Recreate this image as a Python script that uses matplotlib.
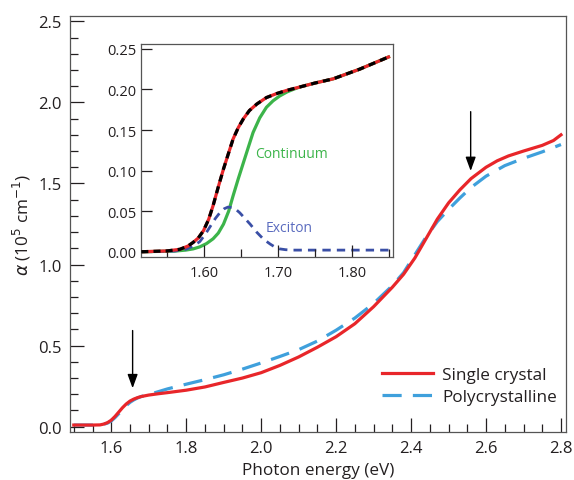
import matplotlib
matplotlib.use("Agg")
import matplotlib.pyplot as plt
from matplotlib.ticker import MultipleLocator

plt.rcParams['font.family'] = ['Open Sans', 'DejaVu Sans']
plt.rcParams['mathtext.fontset'] = 'dejavusans'

TXT = '#231f20'

# 主図: 単結晶
e_single = [1.50, 1.55, 1.57, 1.58, 1.59, 1.60, 1.61, 1.62, 1.63, 1.64, 1.65, 1.66,
            1.67, 1.68, 1.70, 1.725, 1.75, 1.80, 1.85, 1.90, 1.95, 2.00, 2.05, 2.10,
            2.15, 2.20, 2.25, 2.30, 2.35, 2.38, 2.41, 2.44, 2.47, 2.50, 2.53, 2.56,
            2.60, 2.63, 2.66, 2.70, 2.75, 2.78, 2.80]
a_single = [0.01, 0.01, 0.011, 0.016, 0.025, 0.04, 0.063, 0.09, 0.117, 0.14, 0.158, 0.17,
            0.179, 0.186, 0.195, 0.203, 0.21, 0.225, 0.245, 0.273, 0.30, 0.333, 0.378, 0.43,
            0.49, 0.555, 0.635, 0.74, 0.86, 0.94, 1.04, 1.16, 1.28, 1.38, 1.46, 1.53,
            1.60, 1.64, 1.67, 1.70, 1.735, 1.765, 1.80]

# 主図: 多結晶
e_poly = [1.50, 1.56, 1.58, 1.59, 1.60, 1.61, 1.62, 1.63, 1.64, 1.65, 1.66, 1.67,
          1.68, 1.70, 1.75, 1.80, 1.85, 1.90, 1.95, 2.00, 2.05, 2.10, 2.15, 2.20,
          2.25, 2.30, 2.35, 2.38, 2.41, 2.44, 2.47, 2.50, 2.53, 2.56, 2.60, 2.65,
          2.70, 2.75, 2.80]
a_poly = [0.01, 0.01, 0.015, 0.022, 0.035, 0.056, 0.08, 0.106, 0.13, 0.15, 0.165, 0.177,
          0.186, 0.198, 0.233, 0.262, 0.29, 0.32, 0.355, 0.393, 0.433, 0.475, 0.528, 0.595,
          0.67, 0.76, 0.87, 0.95, 1.06, 1.17, 1.265, 1.34, 1.41, 1.475, 1.545, 1.61,
          1.655, 1.695, 1.74]

# 挿入図: 測定値と合計フィット
e_in = [1.515, 1.55, 1.567, 1.578, 1.585, 1.592, 1.599, 1.606, 1.612, 1.619, 1.626,
        1.633, 1.639, 1.646, 1.653, 1.661, 1.671, 1.684, 1.698, 1.712, 1.729, 1.75,
        1.774, 1.81, 1.849]
a_in = [0.0, 0.001, 0.003, 0.007, 0.0115, 0.017, 0.026, 0.04, 0.057, 0.08, 0.102,
        0.122, 0.139, 0.153, 0.164, 0.174, 0.182, 0.19, 0.195, 0.199, 0.203, 0.208,
        0.213, 0.225, 0.240]

# 挿入図: 連続帯
e_cont = [1.515, 1.56, 1.575, 1.585, 1.594, 1.603, 1.612, 1.619, 1.626, 1.633, 1.639,
          1.646, 1.653, 1.66, 1.666, 1.675, 1.684, 1.693, 1.702, 1.712, 1.72, 1.729,
          1.75, 1.774, 1.81, 1.849]
a_cont = [0.0, 0.0008, 0.002, 0.0035, 0.006, 0.010, 0.016, 0.023, 0.034, 0.05, 0.069,
          0.09, 0.110, 0.13, 0.147, 0.165, 0.178, 0.186, 0.192, 0.197, 0.200, 0.203,
          0.208, 0.213, 0.225, 0.240]

# 挿入図: 励起子
e_exc = [1.515, 1.56, 1.575, 1.585, 1.594, 1.601, 1.608, 1.615, 1.621, 1.627, 1.632,
         1.638, 1.643, 1.648, 1.653, 1.662, 1.671, 1.68, 1.689, 1.696, 1.702, 1.71,
         1.72, 1.85]
a_exc = [0.0, 0.0008, 0.003, 0.007, 0.0125, 0.021, 0.031, 0.041, 0.048, 0.053, 0.055,
         0.0545, 0.052, 0.048, 0.043, 0.034, 0.024, 0.0155, 0.0095, 0.0055, 0.0035, 0.0025,
         0.002, 0.002]

fig = plt.figure(figsize=(5.74, 4.81), dpi=100)
ax = fig.add_axes([0.122, 0.1004, 0.8635, 0.8643])

ax.plot(e_single, a_single, color='#e8262a', lw=2.3, label='Single crystal', zorder=3)
ax.plot(e_poly, a_poly, color='#3fa0dc', lw=2.3, dashes=(6, 3.5), label='Polycrystalline', zorder=2)

ax.set_xlim(1.49, 2.8125)
ax.set_ylim(-0.031, 2.533)
ax.xaxis.set_major_locator(MultipleLocator(0.2))
ax.xaxis.set_minor_locator(MultipleLocator(0.05))
ax.yaxis.set_major_locator(MultipleLocator(0.5))
ax.yaxis.set_minor_locator(MultipleLocator(0.1))
ax.tick_params(which='both', direction='in', colors=TXT, labelsize=12, width=0.9)
ax.tick_params(which='major', length=10, pad=6)
ax.tick_params(which='minor', length=5.5)
for s in ax.spines.values():
    s.set_color('#555555')
    s.set_linewidth(0.9)

ax.set_xlabel('Photon energy (eV)', fontsize=12.3, color=TXT, labelpad=4)
ax.set_ylabel(r'$\alpha$ (10$^5$ cm$^{-1}$)', fontsize=12.3, color=TXT, labelpad=4)

# 矢印
ax.annotate('', xy=(1.657, 0.22), xytext=(1.657, 0.61),
            arrowprops=dict(arrowstyle='-|>,head_length=0.6,head_width=0.22',
                            color='black', lw=1.0, mutation_scale=14))
ax.annotate('', xy=(2.559, 1.56), xytext=(2.559, 1.96),
            arrowprops=dict(arrowstyle='-|>,head_length=0.6,head_width=0.22',
                            color='black', lw=1.0, mutation_scale=14))

leg = ax.legend(loc='center left', bbox_to_anchor=(0.629, 0.11), frameon=False,
                fontsize=12.3, handlelength=3.0, handletextpad=0.55, labelspacing=0.35,
                borderpad=0, borderaxespad=0)
for t in leg.get_texts():
    t.set_color(TXT)

# 挿入図
ins = fig.add_axes([0.2456, 0.4636, 0.439, 0.4428])
ins.plot(e_in, a_in, color='#e8262a', lw=2.3, zorder=2)
ins.plot(e_cont, a_cont, color='#3cb44a', lw=2.3, zorder=1)
ins.plot(e_exc, a_exc, color='#3a4fa6', lw=2.0, dashes=(3, 2.2), zorder=1)
ins.plot(e_in, a_in, color='black', lw=2.3, dashes=(2.2, 1.6), zorder=3)

ins.set_xlim(1.5145, 1.855)
ins.set_ylim(-0.0065, 0.256)
ins.xaxis.set_minor_locator(MultipleLocator(0.05))
ins.set_xticks([1.6, 1.7, 1.8])
ins.set_xticklabels(['1.60', '1.70', '1.80'])
ins.set_yticks([0.0, 0.05, 0.10, 0.15, 0.20, 0.25])
ins.set_yticklabels(['0.00', '0.05', '0.10', '0.15', '0.20', '0.25'])
ins.tick_params(which='both', direction='in', colors=TXT, labelsize=10.5, width=0.9)
ins.tick_params(axis='y', which='major', length=8, pad=3)
ins.tick_params(axis='x', which='major', length=9, pad=6)
ins.tick_params(axis='x', which='minor', length=6)
for s in ins.spines.values():
    s.set_color('#555555')
    s.set_linewidth(0.9)

ins.text(1.669, 0.121, 'Continuum', color='#3cb44a', fontsize=10, va='center')
ins.text(1.683, 0.030, 'Exciton', color='#5a6bbf', fontsize=10, va='center')

fig.savefig('out.png', dpi=100)
